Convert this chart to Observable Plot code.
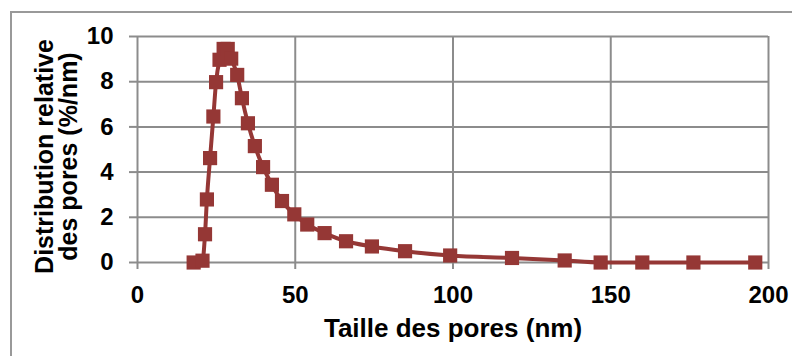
<!DOCTYPE html>
<html>
<head>
<meta charset="utf-8">
<script src="https://cdn.jsdelivr.net/npm/d3@7"></script>
<script src="https://cdn.jsdelivr.net/npm/@observablehq/plot@0.6"></script>
<style>
  body { margin: 0; background: #fff; }
  #chart svg { display: block; }
</style>
</head>
<body>
<div id="chart"></div>
<script>
// Pore size (nm) and relative pore distribution (%/nm)
const poreSize = [17.8, 20.6, 21.4, 22.0, 23.0, 24.05, 24.9, 26.0, 27.3, 28.6, 29.7, 31.6, 33.1, 35.0, 37.2, 39.8, 42.6, 45.8, 49.7, 53.8, 59.3, 66.1, 74.3, 84.8, 99.1, 118.7, 135.4, 146.8, 160.0, 176.2, 195.8];
const distribution = [0, 0.08, 1.25, 2.79, 4.62, 6.46, 7.98, 8.97, 9.45, 9.45, 9.02, 8.3, 7.27, 6.16, 5.15, 4.22, 3.44, 2.72, 2.13, 1.68, 1.30, 0.94, 0.71, 0.50, 0.31, 0.20, 0.09, 0, 0, 0, 0];

const xTicks = [0, 50, 100, 150, 200];
const yTicks = [0, 2, 4, 6, 8, 10];
const xTitle = "Taille des pores (nm)";
const yTitle = "Distribution relative\ndes pores (%/nm)";

const data = poreSize.map((x, i) => ({x, y: distribution[i]}));

const red = "#953735";
const grid = "#8c8c8c";

const chart = Plot.plot({
  width: 792,
  height: 356,
  marginLeft: 137,
  marginRight: 24,
  marginTop: 36,
  marginBottom: 94,
  style: {
    fontFamily: "'Liberation Sans', Arial, sans-serif",
    fontWeight: "bold",
    fontSize: "24px",
    background: "#fff",
    color: "#000"
  },
  x: {domain: [0, 200]},
  y: {domain: [0, 10]},
  marks: [
    Plot.gridY(yTicks, {stroke: grid, strokeOpacity: 1, strokeWidth: 2}),
    Plot.gridX(xTicks.slice(1), {stroke: grid, strokeOpacity: 1, strokeWidth: 2}),
    Plot.ruleX([0], {stroke: grid, strokeWidth: 2}),
    Plot.axisY(yTicks, {tickSize: 8, tickPadding: 16, stroke: grid, strokeWidth: 2, label: null}),
    Plot.axisX(xTicks, {tickSize: 7, tickPadding: 16, stroke: grid, strokeWidth: 2, label: null}),
    Plot.line(data, {x: "x", y: "y", stroke: red, strokeWidth: 4, curve: "monotone-x"}),
    Plot.dot(data, {x: "x", y: "y", symbol: "square", r: 8, fill: red, stroke: "none"}),
    Plot.text([xTitle], {text: d => d, frameAnchor: "bottom", dy: 74, fontSize: 26, fontWeight: "bold"}),
    Plot.text([yTitle], {text: d => d, frameAnchor: "left", textAnchor: "middle", rotate: -90, dx: -80, dy: 7, fontSize: 25, fontWeight: "bold", lineHeight: 0.96})
  ]
});

// Outer chart frame (left and top edges visible)
d3.select(chart).insert("rect", ":first-child")
  .attr("x", 11).attr("y", 12)
  .attr("width", 900).attr("height", 500)
  .attr("fill", "none")
  .attr("stroke", "#999")
  .attr("stroke-width", 2);

document.getElementById("chart").append(chart);
</script>
</body>
</html>
